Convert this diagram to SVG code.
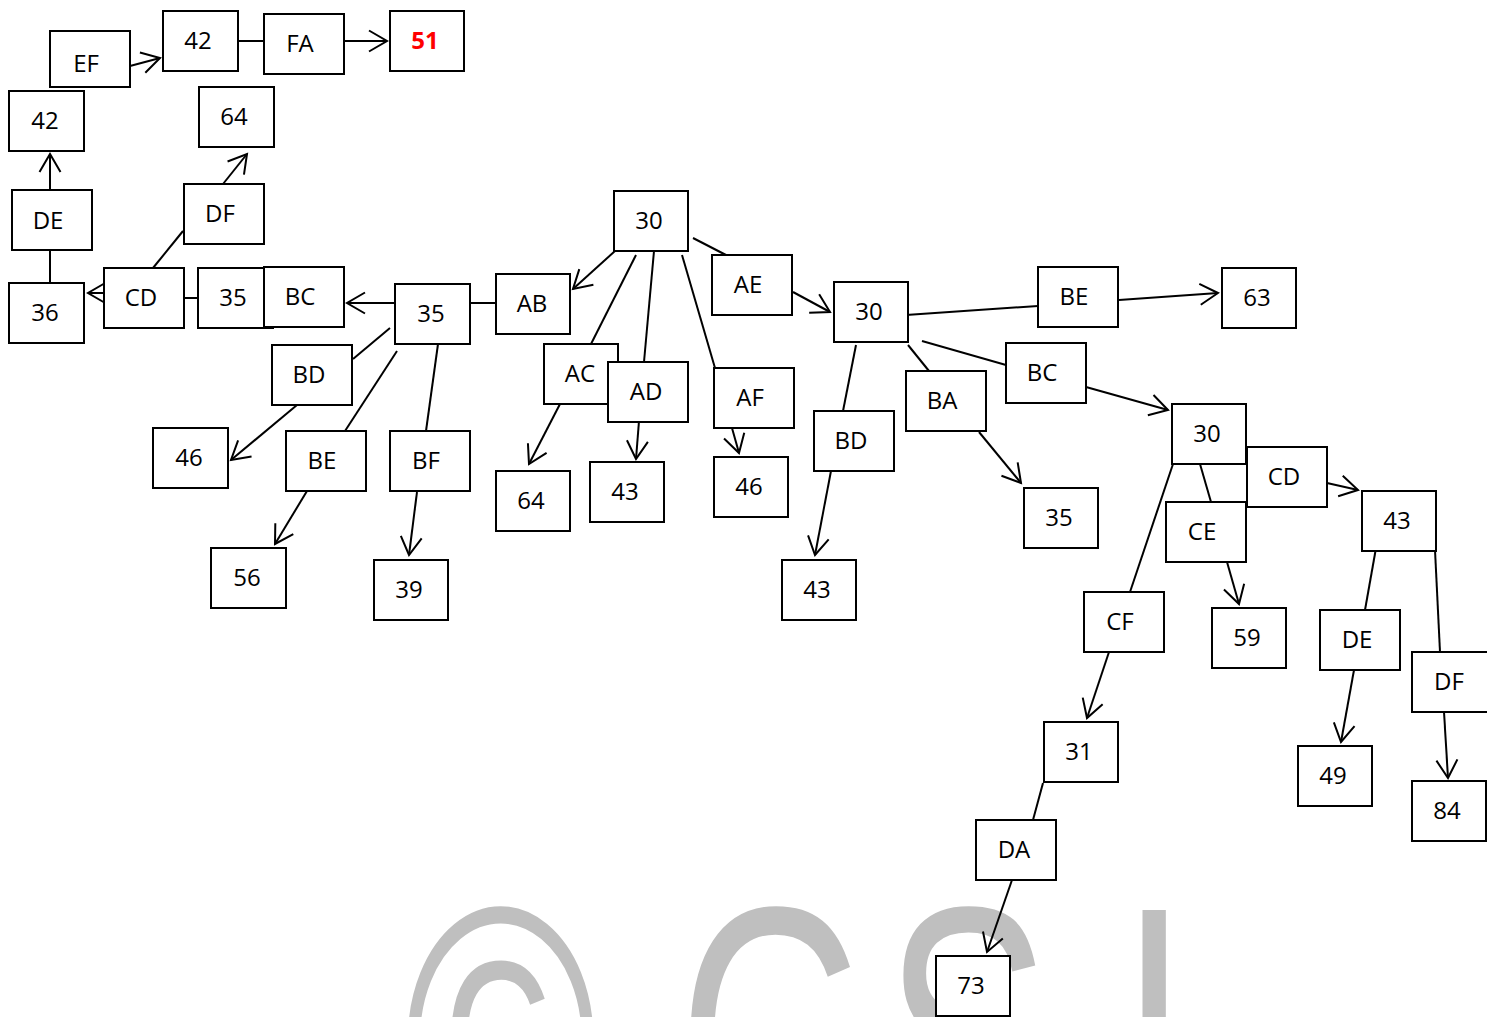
<svg xmlns="http://www.w3.org/2000/svg" width="1487" height="1017" viewBox="0 0 1487 1017">
<style>
.n rect{fill:#fff;stroke:#000;stroke-width:2}
.n text{font-family:"Open Sans","Liberation Sans",sans-serif;font-size:24px;fill:#000;text-anchor:middle}
.n text.red{fill:#ff0000;font-weight:bold}
#connectors line{stroke:#000;stroke-width:2;fill:none}
#connectors line.a{marker-end:url(#arr)}
.wm{font-family:"Liberation Sans",sans-serif;font-size:250px;fill:#bfbfbf}
</style>
<defs>
<marker id="arr" markerUnits="userSpaceOnUse" markerWidth="24" markerHeight="26" refX="20" refY="13" orient="auto" viewBox="0 0 24 26">
<path d="M2,2.5 L20,13 L2,23.5" fill="none" stroke="#000" stroke-width="2"/>
</marker>
</defs>
<rect width="1487" height="1017" fill="#fff"/>
<g id="watermark">
<text class="wm" transform="translate(404,1168) scale(1.05,1.5)">©</text>
<text class="wm" transform="translate(678,1168) scale(1,1.5)">G</text>
<text class="wm" transform="translate(884,1168) scale(1,1.5)">S</text>
<text class="wm" transform="translate(1122,1168) scale(1,1.5)">L</text>
</g>
<g id="connectors">
<line class="a" x1="130" y1="66" x2="160" y2="58"/>
<line x1="238" y1="41" x2="264" y2="41"/>
<line class="a" x1="344" y1="41" x2="387" y2="41"/>
<line class="a" x1="50" y1="190" x2="50" y2="154"/>
<line x1="50" y1="285" x2="50" y2="250"/>
<line class="a" x1="104" y1="293" x2="88" y2="293"/>
<line x1="153" y1="268" x2="183" y2="231"/>
<line class="a" x1="223" y1="184" x2="247" y2="154"/>
<line x1="184" y1="298" x2="198" y2="298"/>
<line class="a" x1="395" y1="303" x2="347" y2="303"/>
<line x1="470" y1="303" x2="496" y2="303"/>
<line x1="390" y1="328" x2="353" y2="359"/>
<line x1="397" y1="351" x2="345" y2="431"/>
<line x1="438" y1="344" x2="426" y2="431"/>
<line class="a" x1="297" y1="405" x2="231" y2="460"/>
<line class="a" x1="307" y1="491" x2="275" y2="544"/>
<line class="a" x1="417" y1="492" x2="409" y2="555"/>
<line class="a" x1="615" y1="251" x2="573" y2="289"/>
<line x1="636" y1="255" x2="591" y2="344"/>
<line x1="654" y1="251" x2="644" y2="362"/>
<line x1="682" y1="255" x2="715" y2="368"/>
<line x1="693" y1="238" x2="726" y2="255"/>
<line class="a" x1="793" y1="292" x2="830" y2="312"/>
<line class="a" x1="560" y1="404" x2="529" y2="464"/>
<line class="a" x1="639" y1="421" x2="636" y2="459"/>
<line class="a" x1="732" y1="428" x2="739" y2="453"/>
<line x1="906" y1="315" x2="1038" y2="306"/>
<line class="a" x1="1119" y1="300" x2="1218" y2="293"/>
<line x1="922" y1="341" x2="1006" y2="365"/>
<line class="a" x1="1086" y1="387" x2="1168" y2="410"/>
<line x1="908" y1="345" x2="929" y2="371"/>
<line class="a" x1="979" y1="432" x2="1021" y2="483"/>
<line x1="856" y1="345" x2="843" y2="411"/>
<line class="a" x1="831" y1="471" x2="815" y2="555"/>
<line x1="1200" y1="464" x2="1211" y2="502"/>
<line x1="1173" y1="464" x2="1130" y2="592"/>
<line x1="1239" y1="461" x2="1247" y2="464"/>
<line class="a" x1="1327" y1="483" x2="1358" y2="490"/>
<line class="a" x1="1227" y1="562" x2="1239" y2="604"/>
<line class="a" x1="1109" y1="652" x2="1087" y2="718"/>
<line x1="1376" y1="548" x2="1365" y2="610"/>
<line x1="1435" y1="550" x2="1440" y2="652"/>
<line class="a" x1="1354" y1="670" x2="1341" y2="742"/>
<line class="a" x1="1444" y1="712" x2="1448" y2="778"/>
<line x1="1043" y1="783" x2="1033" y2="820"/>
<line class="a" x1="1012" y1="880" x2="987" y2="952"/>
</g>
<g id="n1" class="n"><rect x="50" y="31" width="80" height="56"/><text x="86" y="72">EF</text></g>
<g id="n2" class="n"><rect x="163" y="11" width="75" height="60"/><text x="198" y="49">42</text></g>
<g id="n3" class="n"><rect x="264" y="14" width="80" height="60"/><text x="300" y="52">FA</text></g>
<g id="n4" class="n"><rect x="390" y="11" width="74" height="60"/><text class="red" x="425" y="49">51</text></g>
<g id="n5" class="n"><rect x="9" y="91" width="75" height="60"/><text x="45" y="129">42</text></g>
<g id="n6" class="n"><rect x="199" y="87" width="75" height="60"/><text x="234" y="125">64</text></g>
<g id="n7" class="n"><rect x="12" y="190" width="80" height="60"/><text x="48" y="229">DE</text></g>
<g id="n8" class="n"><rect x="184" y="184" width="80" height="60"/><text x="220" y="222">DF</text></g>
<g id="n9" class="n"><rect x="104" y="268" width="80" height="60"/><text x="141" y="306">CD</text></g>
<g id="n10" class="n"><rect x="9" y="283" width="75" height="60"/><text x="45" y="321">36</text></g>
<g id="n11" class="n"><rect x="198" y="268" width="75" height="60"/><text x="233" y="306">35</text></g>
<g id="n12" class="n"><rect x="264" y="267" width="80" height="60"/><text x="300" y="305">BC</text></g>
<g id="n13" class="n"><rect x="395" y="284" width="75" height="60"/><text x="431" y="322">35</text></g>
<g id="n14" class="n"><rect x="496" y="274" width="74" height="60"/><text x="532" y="312">AB</text></g>
<g id="n15" class="n"><rect x="614" y="191" width="74" height="60"/><text x="649" y="229">30</text></g>
<g id="n16" class="n"><rect x="712" y="255" width="80" height="60"/><text x="748" y="293">AE</text></g>
<g id="n17" class="n"><rect x="544" y="344" width="74" height="60"/><text x="580" y="382">AC</text></g>
<g id="n18" class="n"><rect x="608" y="362" width="80" height="60"/><text x="646" y="400">AD</text></g>
<g id="n19" class="n"><rect x="714" y="368" width="80" height="60"/><text x="750" y="406">AF</text></g>
<g id="n20" class="n"><rect x="272" y="345" width="80" height="60"/><text x="309" y="383">BD</text></g>
<g id="n21" class="n"><rect x="153" y="428" width="75" height="60"/><text x="189" y="466">46</text></g>
<g id="n22" class="n"><rect x="286" y="431" width="80" height="60"/><text x="322" y="469">BE</text></g>
<g id="n23" class="n"><rect x="390" y="431" width="80" height="60"/><text x="426" y="469">BF</text></g>
<g id="n24" class="n"><rect x="211" y="548" width="75" height="60"/><text x="247" y="586">56</text></g>
<g id="n25" class="n"><rect x="374" y="560" width="74" height="60"/><text x="409" y="598">39</text></g>
<g id="n26" class="n"><rect x="496" y="471" width="74" height="60"/><text x="531" y="509">64</text></g>
<g id="n27" class="n"><rect x="590" y="462" width="74" height="60"/><text x="625" y="500">43</text></g>
<g id="n28" class="n"><rect x="714" y="457" width="74" height="60"/><text x="749" y="495">46</text></g>
<g id="n29" class="n"><rect x="834" y="282" width="74" height="60"/><text x="869" y="320">30</text></g>
<g id="n30" class="n"><rect x="1038" y="267" width="80" height="60"/><text x="1074" y="305">BE</text></g>
<g id="n31" class="n"><rect x="1222" y="268" width="74" height="60"/><text x="1257" y="306">63</text></g>
<g id="n32" class="n"><rect x="1006" y="343" width="80" height="60"/><text x="1042" y="381">BC</text></g>
<g id="n33" class="n"><rect x="906" y="371" width="80" height="60"/><text x="942" y="409">BA</text></g>
<g id="n34" class="n"><rect x="814" y="411" width="80" height="60"/><text x="851" y="449">BD</text></g>
<g id="n35" class="n"><rect x="1024" y="488" width="74" height="60"/><text x="1059" y="526">35</text></g>
<g id="n36" class="n"><rect x="782" y="560" width="74" height="60"/><text x="817" y="598">43</text></g>
<g id="n37" class="n"><rect x="1172" y="404" width="74" height="60"/><text x="1207" y="442">30</text></g>
<g id="n38" class="n"><rect x="1247" y="447" width="80" height="60"/><text x="1284" y="485">CD</text></g>
<g id="n39" class="n"><rect x="1166" y="502" width="80" height="60"/><text x="1202" y="540">CE</text></g>
<g id="n40" class="n"><rect x="1084" y="592" width="80" height="60"/><text x="1120" y="630">CF</text></g>
<g id="n41" class="n"><rect x="1212" y="608" width="74" height="60"/><text x="1247" y="646">59</text></g>
<g id="n42" class="n"><rect x="1362" y="491" width="74" height="60"/><text x="1397" y="529">43</text></g>
<g id="n43" class="n"><rect x="1320" y="610" width="80" height="60"/><text x="1357" y="648">DE</text></g>
<g id="n44" class="n"><rect x="1412" y="652" width="80" height="60"/><text x="1449" y="690">DF</text></g>
<g id="n45" class="n"><rect x="1298" y="746" width="74" height="60"/><text x="1333" y="784">49</text></g>
<g id="n46" class="n"><rect x="1412" y="781" width="74" height="60"/><text x="1447" y="819">84</text></g>
<g id="n47" class="n"><rect x="1044" y="722" width="74" height="60"/><text x="1079" y="760">31</text></g>
<g id="n48" class="n"><rect x="976" y="820" width="80" height="60"/><text x="1014" y="858">DA</text></g>
<g id="n49" class="n"><rect x="936" y="956" width="74" height="60"/><text x="971" y="994">73</text></g>
</svg>
